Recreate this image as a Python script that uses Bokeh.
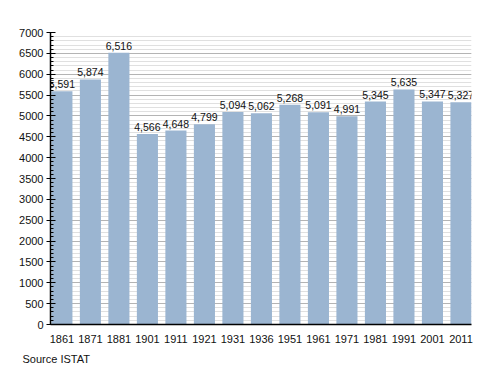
from bokeh.plotting import figure
from bokeh.models import (ColumnDataSource, Range1d, FixedTicker, SingleIntervalTicker,
                          Title, LabelSet)
from bokeh.core.properties import value
from bokeh.embed import file_html
from bokeh.resources import INLINE

years = ["1861", "1871", "1881", "1901", "1911", "1921", "1931", "1936",
         "1951", "1961", "1971", "1981", "1991", "2001", "2011"]
population = [5591, 5874, 6516, 4566, 4648, 4799, 5094, 5062,
              5268, 5091, 4991, 5345, 5635, 5347, 5327]
source_note = "Source ISTAT"

FONT = "Arial"

xs = list(range(len(years)))
src = ColumnDataSource(dict(
    x=xs, y=population, label=[f"{v:,}" for v in population]))

p = figure(width=490, height=372, output_backend="svg", toolbar_location=None,
           x_range=Range1d(-0.40, 14.37), y_range=Range1d(0, 7000),
           min_border_left=50, min_border_right=19, min_border_top=32,
           min_border_bottom=48)
p.outline_line_color = None
p.background_fill_color = "white"

p.vbar(x="x", top="y", width=0.74, bottom=0, source=src,
       fill_color="#9bb5d1", line_color=None)

p.add_layout(LabelSet(x="x", y="y", text="label", source=src,
                      text_align="center", text_baseline="bottom", y_offset=3,
                      text_font=value(FONT), text_font_size=value("10.5px"),
                      text_color=value("#111111")))

# axes
p.xaxis.ticker = FixedTicker(ticks=xs)
p.xaxis.major_label_overrides = {i: y for i, y in zip(xs, years)}
p.xaxis.major_tick_line_color = None
p.xaxis.minor_tick_line_color = None
p.xaxis.axis_line_color = "black"
p.xaxis.axis_line_width = 1.5
p.xaxis.major_label_standoff = 4
p.xaxis.major_label_text_font = FONT
p.xaxis.major_label_text_font_size = "11px"
p.xaxis.major_label_text_color = "#111111"

p.yaxis.ticker = SingleIntervalTicker(interval=500, num_minor_ticks=5)
p.yaxis.axis_line_color = "black"
p.yaxis.axis_line_width = 1.5
p.yaxis.major_tick_in = 5
p.yaxis.major_tick_out = 4
p.yaxis.minor_tick_in = 3
p.yaxis.minor_tick_out = 0
p.yaxis.major_tick_line_color = "black"
p.yaxis.minor_tick_line_color = "black"
p.yaxis.major_label_standoff = 3
p.yaxis.major_label_text_font = FONT
p.yaxis.major_label_text_font_size = "11px"
p.yaxis.major_label_text_color = "#111111"

p.xgrid.grid_line_color = None
p.ygrid.grid_line_color = "#b4b4b4"
p.ygrid.minor_grid_line_color = "#e0e0e0"

p.add_layout(Title(text=source_note, align="left", offset=-28, standoff=10,
                   text_font=FONT, text_font_size="11px", text_font_style="normal",
                   text_color="#111111"), "below")

open("out.html", "w").write(file_html(p, INLINE))
